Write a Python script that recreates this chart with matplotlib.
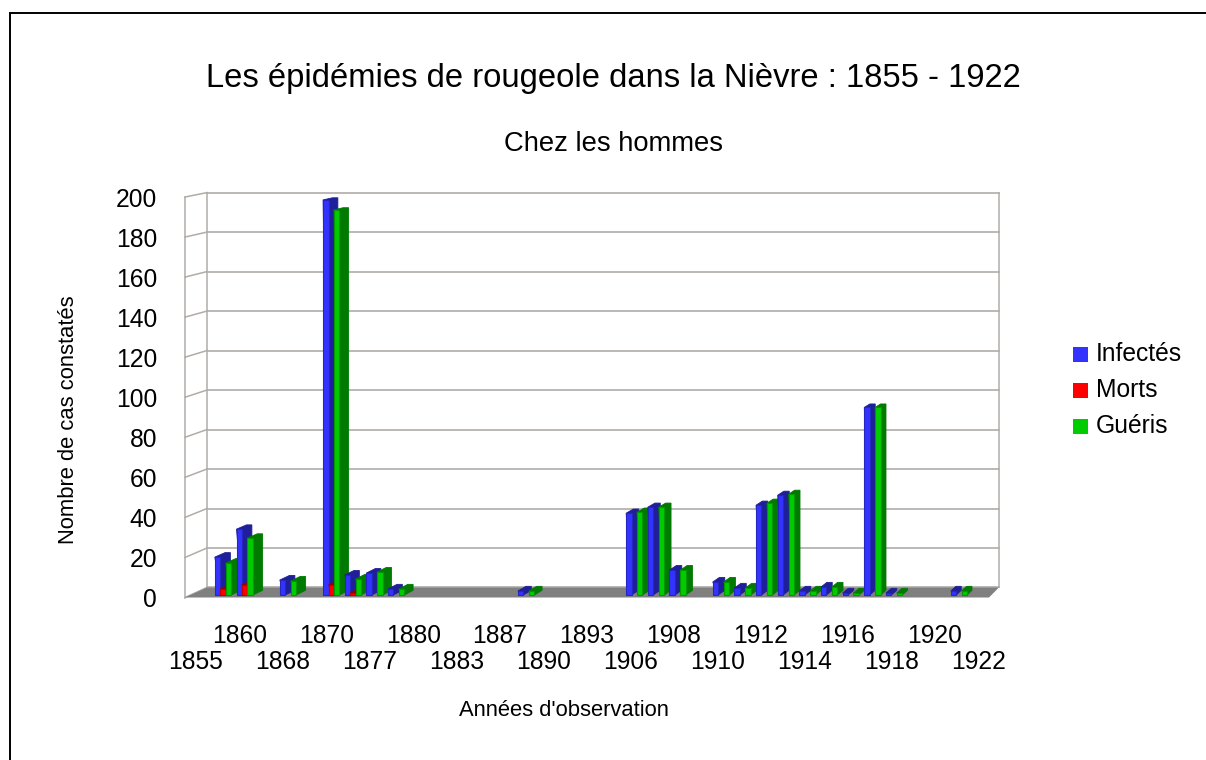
import matplotlib
matplotlib.use("Agg")
import matplotlib.pyplot as plt
from matplotlib.patches import Polygon, Rectangle

plt.rcParams["font.family"] = ["Liberation Sans", "DejaVu Sans"]

title = "Les épidémies de rougeole dans la Nièvre : 1855 - 1922"
subtitle = "Chez les hommes"
xlabel = "Années d'observation"
ylabel = "Nombre de cas constatés"

# one label every second category, the others are not shown on the original
shown_years = ["1855", "1860", "1868", "1870", "1877", "1880", "1883", "1887", "1890", "1893",
               "1906", "1908", "1910", "1912", "1914", "1916", "1918", "1920", "1922"]

# 37 categories
infectes = [0, 19, 33, 0, 7.5, 0, 198, 10, 11, 3, 0, 0, 0, 0, 0, 2, 0, 0, 0, 0, 41, 44, 12.5, 0,
            6.5, 3.5, 45, 50, 2, 4, 1, 94, 1, 0, 0, 2, 0]
morts = [0, 3, 5, 0, 0, 0, 5, 1, 0, 0, 0, 0, 0, 0, 0, 0, 0, 0, 0, 0, 0, 0, 0, 0,
         0, 0, 0, 0, 0, 0, 0, 0, 0, 0, 0, 0, 0]
gueris = [0, 16, 28.5, 0, 7, 0, 193, 8, 11.5, 3, 0, 0, 0, 0, 0, 2, 0, 0, 0, 0, 41.5, 44, 12.5, 0,
          6.5, 3.5, 46, 50.5, 2, 4, 1, 94, 1, 0, 0, 2, 0]
series_names = ["Infectés", "Morts", "Guéris"]
front_colors = ["#3333ff", "#ff0000", "#00cc00"]
side_colors = ["#1f1f99", "#990000", "#007a00"]
edge_colors = ["#2626c0", "#c00000", "#009900"]

W, H = 1206, 760
fig = plt.figure(figsize=(W / 100, H / 100), dpi=100)
L, R, T, B = 185, 989, 197, 597.5
ax = fig.add_axes([L / W, 1 - B / H, (R - L) / W, (B - T) / H])
n = len(infectes)
ax.set_xlim(-0.5, n - 0.5)
ax.set_ylim(0, 200)


def proj(x, y, d):
    # depth d goes from 0 (front plane) to 1 (back wall), the wall is a bit narrower
    bx = -0.5 + 1.012 + (x + 0.5) * 0.985
    by = y * 0.986 + 5.0
    return (x + (bx - x) * d, y + (by - y) * d)


def poly(pts, color, z, ec="none", lw=0):
    ax.add_patch(Polygon(pts, closed=True, fc=color, ec=ec, lw=lw, zorder=z, clip_on=False))


# walls and floor
grid = "#b0aca8"
x0, x1 = -0.5, n - 0.5
for v in range(0, 201, 20):
    ax.plot(*zip(proj(x0, v, 1), proj(x1, v, 1)), color=grid, lw=1.2, zorder=1, clip_on=False)
    ax.plot(*zip(proj(x0, v, 0), proj(x0, v, 1)), color=grid, lw=1.1, zorder=1, clip_on=False)
for d, x in [(1, x0), (1, x1), (0, x0)]:
    ax.plot(*zip(proj(x, 0, d), proj(x, 200, d)), color=grid, lw=1.1, zorder=1, clip_on=False)
poly([proj(x0, 0, 0), proj(x1, 0, 0), proj(x1, 0, 1), proj(x0, 0, 1)], "#808080", 2)

# bars, back to front inside each group
bar_w = 0.25
d_front, d_back = 0.25, 0.72
z = 3
for i in range(n):
    for s, vals in enumerate([infectes, morts, gueris]):
        v = vals[i]
        if v <= 0:
            continue
        a = i - 0.375 + s * bar_w
        b = a + bar_w
        poly([proj(a, v, d_front), proj(a, v, d_back), proj(b, v, d_back),
              proj(b, 0, d_back), proj(b, 0, d_front)], side_colors[s], z, side_colors[s], 0.6)
        poly([proj(a, 0, d_front), proj(b, 0, d_front), proj(b, v, d_front), proj(a, v, d_front)],
             front_colors[s], z + 1, edge_colors[s], 0.8)
        z += 2

ax.patch.set_visible(False)
for sp in ax.spines.values():
    sp.set_visible(False)
ax.set_yticks(range(0, 201, 20))
ticks = list(range(0, n, 2))
ax.set_xticks(ticks)
ax.set_xticklabels([("\n" if k % 2 == 0 else "") + y for k, y in enumerate(shown_years)], linespacing=1.13)
ax.tick_params(axis="both", length=0, labelsize=17.7)
ax.tick_params(axis="y", pad=20)
ax.tick_params(axis="x", pad=19)

fig.text(613 / W, 1 - 78 / H, title, ha="center", va="center", fontsize=23.6)
fig.text(613 / W, 1 - 144 / H, subtitle, ha="center", va="center", fontsize=19.7)
fig.text(564 / W, 1 - 710 / H, xlabel, ha="center", va="center", fontsize=15.8)
fig.text(69 / W, 1 - 420 / H, ylabel, ha="center", va="center", rotation=90, fontsize=15.8)

# legend
for k, name in enumerate(series_names):
    y = 354 + k * 36
    fig.add_artist(Rectangle((1073 / W, 1 - (y + 8) / H), 15 / W, 15 / H, fc=front_colors[k], ec="none",
                             transform=fig.transFigure))
    fig.text(1096 / W, 1 - y / H, name, ha="left", va="center", fontsize=17.7)

# page border
fig.add_artist(Rectangle((9.5 / W, -0.01), (W + 10) / W, 1 - 13 / H + 0.01, fc="none", ec="black", lw=1.4,
                         transform=fig.transFigure))

fig.savefig("out.png", dpi=100)
